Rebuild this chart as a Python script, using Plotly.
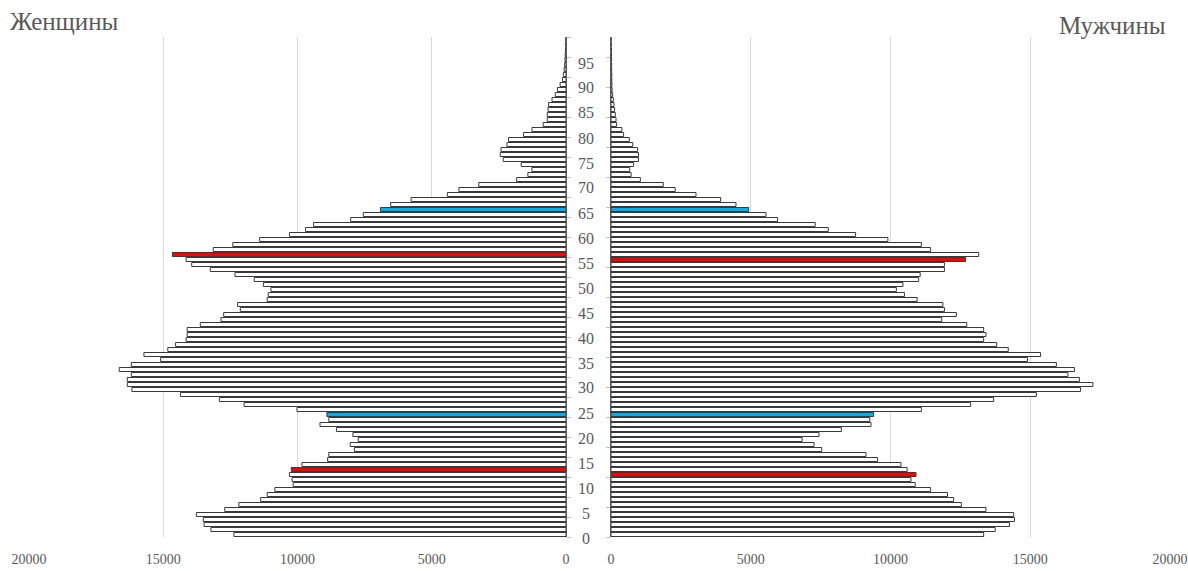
import plotly.graph_objects as go

ages = list(range(100))

women = [12369, 13224, 13481, 13509, 13766, 12711, 12184, 11372, 11129, 10844,
         10160, 10203, 10303, 10232, 9833, 8878, 8835, 7880, 8037, 7738,
         7937, 8550, 9163, 8835, 8906, 10020, 11990, 12910, 14360, 16170,
         16340, 16340, 16190, 16640, 16190, 15100, 15720, 14830, 14540, 14150,
         14110, 14110, 13620, 12850, 12750, 12130, 12230, 11130, 11090, 10990,
         11270, 11610, 12330, 13250, 13940, 14150, 14660, 13140, 12410, 11410,
         10300, 9700, 9400, 8020, 7550, 6910, 6530, 5770, 4420, 3990,
         3250, 1840, 1420, 1270, 1670, 2340, 2450, 2420, 2200, 2140,
         1580, 1270, 850, 700, 700, 670, 650, 520, 400, 320,
         220, 130, 100, 70, 50, 40, 30, 20, 15, 10]

men = [13333, 13746, 14255, 14434, 14407, 13416, 12535, 12260, 12040, 11435,
       10884, 10733, 10912, 10595, 10375, 9536, 9123, 7540, 7265, 6839,
       7444, 8242, 9302, 9260, 9398, 11104, 12866, 13691, 15219, 16801,
       17241, 16760, 16347, 16581, 15934, 14902, 15370, 14214, 13801, 13333,
       13416, 13333, 12728, 11834, 12356, 11930, 11875, 10953, 10499, 10210,
       10444, 11008, 11063, 11930, 11930, 12687, 13155, 11435, 11104, 9907,
       8751, 7774, 7307, 5958, 5545, 4926, 4472, 3922, 3041, 2298,
       1871, 1050, 720, 670, 810, 985, 985, 950, 780, 655,
       450, 390, 200, 180, 155, 130, 107, 83, 60, 40,
       35, 30, 28, 25, 22, 20, 18, 15, 12, 10]

women_red = [13, 56]
women_blue = [24, 65]
men_red = [12, 55]
men_blue = [24, 65]

x_ticks = [0, 5000, 10000, 15000, 20000]
age_labels = list(range(0, 100, 5))

RED = "#FF0000"
BLUE = "#00B0F0"
WHITE = "#FFFFFF"
OUTLINE = "#3A3A3A"
TXT = "#595959"
FONT = "Liberation Serif, Times New Roman, serif"


def colors(red, blue):
    c = []
    for a in ages:
        if a in red:
            c.append(RED)
        elif a in blue:
            c.append(BLUE)
        else:
            c.append(WHITE)
    return c


W, H = 1188, 571
fig = go.Figure()
fig.add_bar(y=ages, x=women, orientation="h", xaxis="x", yaxis="y",
            marker=dict(color=colors(women_red, women_blue),
                        line=dict(color=OUTLINE, width=1)),
            showlegend=False, hoverinfo="x+y")
fig.add_bar(y=ages, x=men, orientation="h", xaxis="x2", yaxis="y2",
            marker=dict(color=colors(men_red, men_blue),
                        line=dict(color=OUTLINE, width=1)),
            showlegend=False, hoverinfo="x+y")

ydom = [(H - 537) / H, (H - 37) / H]
common_x = dict(tickvals=x_ticks, ticktext=[str(v) for v in x_ticks],
                showgrid=True, gridcolor="#D9D9D9", gridwidth=1,
                zeroline=False, showline=False, ticks="",
                tickfont=dict(family=FONT, size=14, color=TXT),
                ticklabelstandoff=12, automargin=False, fixedrange=True)
common_y = dict(domain=ydom, range=[-0.5, 99.5], tickmode="linear", tick0=-0.5,
                showticklabels=False, showgrid=False, zeroline=False,
                showline=True, linecolor="#595959", linewidth=1,
                ticks="outside", ticklen=4, tickcolor="#BFBFBF",
                automargin=False, fixedrange=True)

annotations = []
for k in age_labels:
    y_px = 538 - 5 * k
    annotations.append(dict(x=586 / W, xref="paper", y=(H - y_px) / H, yref="paper",
                            text=str(k), showarrow=False, xanchor="center",
                            yanchor="middle",
                            font=dict(family=FONT, size=16, color=TXT)))
annotations.append(dict(x=8 / W, xref="paper", y=(H - 22) / H, yref="paper",
                        text="Женщины", showarrow=False, xanchor="left",
                        yanchor="middle",
                        font=dict(family=FONT, size=25, color=TXT)))
annotations.append(dict(x=1168 / W, xref="paper", y=(H - 25) / H, yref="paper",
                        text="Мужчины", showarrow=False, xanchor="right",
                        yanchor="middle",
                        font=dict(family=FONT, size=25, color=TXT)))

fig.update_layout(
    width=W, height=H,
    margin=dict(l=0, r=0, t=0, b=0, pad=0),
    paper_bgcolor="white", plot_bgcolor="white",
    bargap=0.2,
    xaxis=dict(domain=[29 / W, 566 / W], range=[20000, 0], anchor="y", **common_x),
    yaxis=dict(anchor="x", side="right", dtick=4, **common_y),
    xaxis2=dict(domain=[611 / W, 1170 / W], range=[0, 20000], anchor="y2", **common_x),
    yaxis2=dict(anchor="x2", side="left", dtick=6, **common_y),
    annotations=annotations,
)

fig.write_html("out.html",
               config={"displayModeBar": False},
               post_script="document.body.style.margin='0';"
                           "document.body.style.overflow='hidden';")
